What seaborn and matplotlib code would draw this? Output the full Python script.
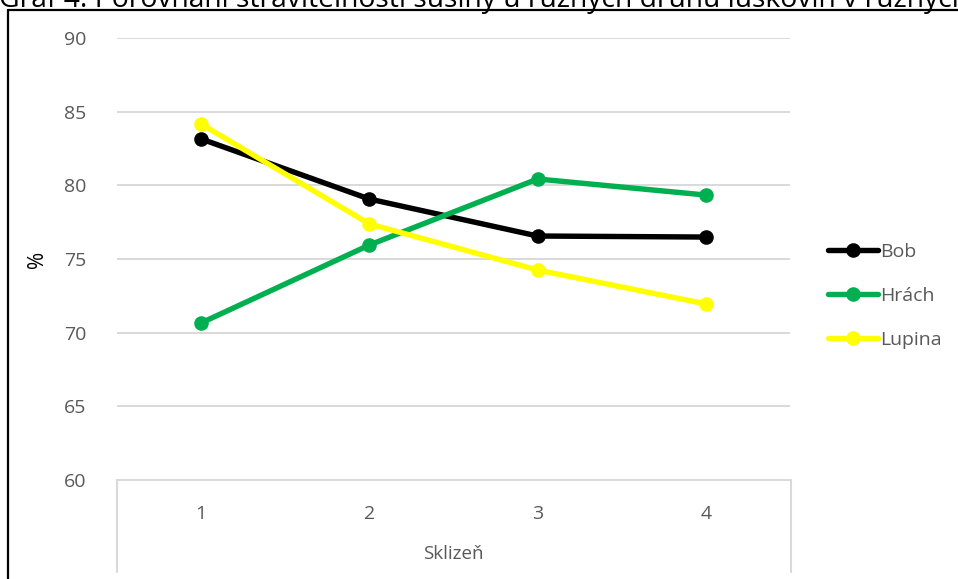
import pandas as pd
import matplotlib.pyplot as plt
import seaborn as sns
from matplotlib.lines import Line2D

# Data
harvests = ['1', '2', '3', '4']
bob = [83.15, 79.07, 76.56, 76.49]
hrach = [70.66, 75.95, 80.43, 79.34]
lupina = [84.16, 77.38, 74.25, 71.95]
series_names = ['Bob', 'Hrách', 'Lupina']
colors = ['#000000', '#00B050', '#FFFF00']

df = pd.DataFrame({
    'Sklizeň': harvests * 3,
    'value': bob + hrach + lupina,
    'druh': [n for n in series_names for _ in harvests],
})

sns.set_style("white")
plt.rcParams['font.family'] = ['Open Sans', 'DejaVu Sans']

fig = plt.figure(figsize=(9.58, 5.79), dpi=100)
W, H = 958, 579
ax = fig.add_axes([117 / W, 1 - 480 / H, (790 - 117) / W, (480 - 38) / H])

sns.lineplot(ax=ax, data=df, x='Sklizeň', y='value', hue='druh',
             palette=colors, marker='o', markersize=10.5, markeredgewidth=0,
             linewidth=3.9, legend=False, sort=False)

ax.set_xlim(-0.5, 3.5)
ax.set_ylim(60, 90)
ax.set_yticks(range(60, 91, 5))
ax.grid(axis='y', color='#d9d9d9', linewidth=1.4)
ax.set_axisbelow(True)
for s in ['top', 'right', 'left']:
    ax.spines[s].set_visible(False)
ax.spines['bottom'].set_color('#d9d9d9')
ax.spines['bottom'].set_linewidth(1.4)
ax.tick_params(axis='both', length=0, labelsize=14, labelcolor='#595959')
ax.tick_params(axis='y', pad=22)
ax.tick_params(axis='x', pad=18)
ax.set_xlabel('Sklizeň', fontsize=13.5, color='#595959', labelpad=16)
ax.set_ylabel('')
fig.text(37 / W, 1 - 259 / H, '%', rotation=90, fontsize=15, color='black',
         ha='center', va='center')

# Excel-like category axis box edges
for xp in [117, 791]:
    fig.add_artist(Line2D([xp / W, xp / W], [1 - 480 / H, 1 - 572 / H],
                          color='#d9d9d9', linewidth=1.5))

# chart outer border (left and top)
fig.add_artist(Line2D([7.5 / W, 7.5 / W], [0, 1 - 10 / H], color='black', linewidth=1.6))
fig.add_artist(Line2D([7.5 / W, 1], [1 - 10 / H, 1 - 10 / H], color='black', linewidth=1.6))

# title, cut off at the top of the image
fig.text(-1 / W, 1 - 7 / H, 'Graf 4: Porovnání stravitelnosti sušiny u různých druhů luskovin v různých',
         fontsize=20.3, va='baseline', ha='left', color='black')

handles = [Line2D([0], [0], color=c, linewidth=3.9, marker='o', markersize=10.5,
                  markeredgewidth=0) for c in colors]
fig.legend(handles, series_names, loc='center left',
           bbox_to_anchor=(810 / W, 1 - 296 / H), frameon=False,
           fontsize=14, labelcolor='#595959', handlelength=2.6,
           handletextpad=0.1, labelspacing=1.35)

plt.savefig('out.png', dpi=100)
